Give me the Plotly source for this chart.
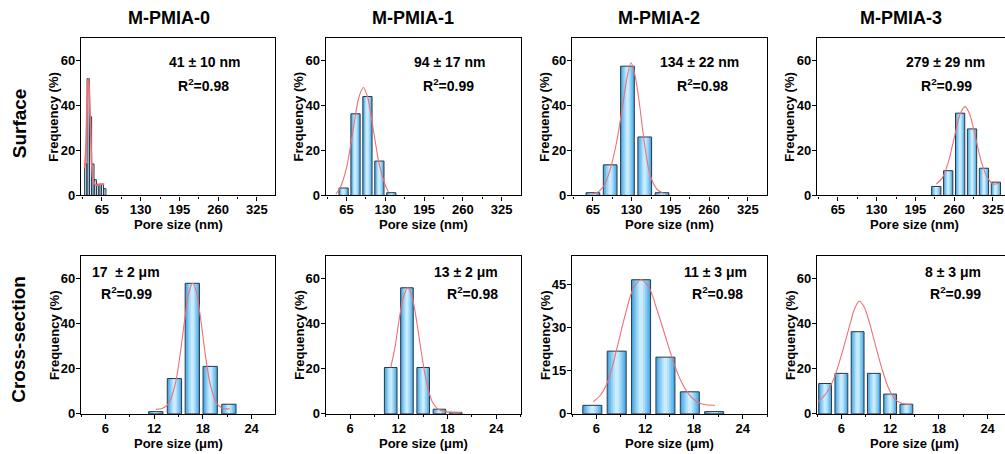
import plotly.graph_objects as go

W, H = 1005, 454          # reference picture size (positions below are in these pixels)
FIG_H = 463               # figure height actually requested
FONT = "Arial, Liberation Sans, sans-serif"

# ---------------- data ----------------
col_titles = ["M-PMIA-0", "M-PMIA-1", "M-PMIA-2", "M-PMIA-3"]
row_labels = ["Surface", "Cross-section"]

# Surface histograms (nm)
s0_x = [38, 42, 46, 50, 54, 58, 62, 66, 70]
s0_y = [14, 52, 35, 14, 7, 5, 5, 5, 3]
s1_x = [60, 80, 100, 120, 140]
s1_y = [3.3, 36.3, 44, 15.3, 1.2]
s2_x = [65, 94, 123, 152, 181]
s2_y = [1.2, 13.6, 57.5, 26, 1.2]
s3_x = [230, 250, 270, 290, 310, 330]
s3_y = [4, 11, 36.6, 29.6, 12.1, 5.9]

# Cross-section histograms (um)
c0_x = [12.2, 14.5, 16.7, 18.9, 21.2]
c0_y = [1.0, 15.7, 58, 21.1, 4.3]
c1_x = [11, 13, 15, 17, 19]
c1_y = [20.6, 56, 20.6, 2.1, 0.7]
c2_x = [5.5, 8.5, 11.5, 14.5, 17.5, 20.5]
c2_y = [3.0, 21.9, 46.8, 19.8, 7.7, 0.8]
c3_x = [4, 6, 8, 10, 12, 14]
c3_y = [13.5, 18, 36.5, 18, 8.8, 4.3]

# Fitted curves
fs0_x = [36, 38, 40, 41.5, 42.5, 44, 46, 48, 50, 53, 57, 61, 65, 69]
fs0_y = [12, 20, 38, 50, 52, 46, 30, 14, 7, 5, 4.5, 4.8, 5, 5]
fs1_x = [47, 55, 65, 75, 85, 93, 100, 110, 120, 130, 135]
fs1_y = [0.5, 3.9, 12.4, 27.4, 43, 48, 44, 29, 13.6, 4.5, 1.5]
fs2_x = [62, 75, 85, 95, 105, 115, 122, 129, 136, 143, 150, 158, 166, 174, 182]
fs2_y = [0.5, 1.8, 5, 12.5, 24, 40, 52, 59, 53, 41, 26, 12.5, 5.5, 2.3, 1.2]
fs3_x = [230, 240, 250, 260, 270, 278, 286, 296, 306, 316, 326, 335]
fs3_y = [5.0, 7.8, 14.6, 25.5, 36.2, 39.5, 36.2, 25.5, 14.6, 7.8, 5.0, 5.5]
fc0_x = [12.2, 13.0, 13.8, 14.6, 15.2, 15.8, 16.3, 16.75, 17.2, 17.7, 18.3, 18.9, 19.7, 20.5, 21.3]
fc0_y = [2.0, 2.4, 4.7, 13.2, 26.3, 42.9, 54.2, 58, 54.2, 42.9, 26.3, 13.2, 4.7, 2.4, 2.3]
fc1_x = [11.0, 11.5, 12.0, 12.5, 13.1, 13.6, 14.1, 14.6, 15.1, 15.6, 16.1, 16.8, 18.0, 19.7]
fc1_y = [20.6, 29, 41, 51, 56, 52.5, 43.3, 31.4, 20, 11.2, 5.5, 2.2, 0.9, 0.6]
fc2_x = [5.6, 6.5, 7.5, 8.5, 9.5, 10.5, 11.5, 12.5, 13.5, 14.5, 15.5, 16.5, 17.5, 18.5, 19.5, 20.6]
fc2_y = [4.2, 6.5, 12, 22.5, 34, 43.5, 46.8, 44, 36, 27, 18, 11, 6.5, 4, 3.2, 3.0]
fc3_x = [3.1, 4, 5, 6, 7, 7.6, 8.2, 8.8, 9.5, 10.3, 11, 11.8, 12.6, 13.5, 14.6]
fc3_y = [5.3, 8.5, 15, 26, 39, 46.5, 50, 47.5, 40, 29, 20, 11.5, 6.5, 4.6, 4.3]

# Annotations
surf_size_text = ["41 \u00b1 10 nm", "94 \u00b1 17 nm", "134 \u00b1 22 nm", "279 \u00b1 29 nm"]
surf_r2 = ["0.98", "0.99", "0.98", "0.99"]
cross_size_text = ["17  \u00b1 2 \u03bcm", "13 \u00b1 2 \u03bcm", "11 \u00b1 3 \u03bcm", "8 \u00b1 3 \u03bcm"]
cross_r2 = ["0.99", "0.98", "0.98", "0.99"]

nm_ticks = [65, 130, 195, 260, 325]
um_ticks = [6, 12, 18, 24]

# ---------------- layout geometry (pixels) ----------------
col_px = [(81, 275), (325.7, 520.7), (572, 767), (817, 1005)]
col_mid = [178, 423, 669.5, 914.5]
row_px = [(38, 195), (255.7, 413)]
xtitle_y = [224, 443]

panels = [
    (0, 0, s0_x, s0_y, 3.6, fs0_x, fs0_y, "nm", 70, 20, 1.7),
    (0, 1, s1_x, s1_y, 15.5, fs1_x, fs1_y, "nm", 70, 20, 1.1),
    (0, 2, s2_x, s2_y, 23, fs2_x, fs2_y, "nm", 70, 20, 1.1),
    (0, 3, s3_x, s3_y, 15.5, fs3_x, fs3_y, "nm", 70, 20, 1.1),
    (1, 0, c0_x, c0_y, 1.76, fc0_x, fc0_y, "um", 70, 20, 1.1),
    (1, 1, c1_x, c1_y, 1.55, fc1_x, fc1_y, "um", 70, 20, 1.1),
    (1, 2, c2_x, c2_y, 2.34, fc2_x, fc2_y, "um", 55, 15, 1.1),
    (1, 3, c3_x, c3_y, 1.58, fc3_x, fc3_y, "um", 70, 20, 1.1),
]

grad_w = [1.0, 0.8, 0.6, 0.4, 0.2]
grad_c = ["#4aa9e5", "#6bbcee", "#8dcef4", "#afdff9", "#cbecfc"]
outline_col = "#2b3a48"
fit_col = "#ef6f72"

fig = go.Figure()
layout = dict(
    width=W, height=FIG_H, margin=dict(l=0, r=0, t=0, b=0),
    paper_bgcolor="white", plot_bgcolor="white",
    barmode="overlay", showlegend=False, autosize=False,
    font=dict(family=FONT, color="black"),
)

annotations = []
lab_font = dict(family=FONT, size=13, color="black")

for k, (r, c, bx, by, bw, fx, fy, unit, ymax, ydt, fw) in enumerate(panels):
    n = k + 1
    xa = "x" if n == 1 else f"x{n}"
    ya = "y" if n == 1 else f"y{n}"
    for w, cl in zip(grad_w, grad_c):
        fig.add_trace(go.Bar(x=bx, y=by, width=bw * w,
                             marker=dict(color=cl, line=dict(width=0)),
                             xaxis=xa, yaxis=ya, hoverinfo="skip"))
    fig.add_trace(go.Bar(x=bx, y=by, width=bw,
                         marker=dict(color="rgba(0,0,0,0)", line=dict(color=outline_col, width=1)),
                         xaxis=xa, yaxis=ya))
    fig.add_trace(go.Scatter(x=fx, y=fy, mode="lines",
                             line=dict(color=fit_col, width=fw, shape="spline", smoothing=0.8),
                             xaxis=xa, yaxis=ya))

    x0, x1 = col_px[c]
    y0, y1 = row_px[r]
    span = x1 - x0
    if unit == "nm":
        xr = [30, 30 + span * 327 / 195]
        ticks = nm_ticks
        minor = 32.5
        xtitle = "Pore size (nm)"
    else:
        xr = [3, 3 + span * 24 / 195]
        ticks = um_ticks
        minor = 3
        xtitle = "Pore size (\u03bcm)"

    axis_common = dict(
        showline=True, linecolor="black", linewidth=1.2,
        ticks="outside", ticklen=4, tickwidth=1.2, tickcolor="black",
        showgrid=False, zeroline=False, ticklabelstandoff=-2,
        tickfont=dict(family=FONT, size=13, color="black", weight="bold"),
    )
    layout["xaxis" if n == 1 else f"xaxis{n}"] = dict(
        axis_common, domain=[x0 / W, min(x1 / W, 1.0)], anchor=ya,
        range=xr, tickmode="array", tickvals=ticks, mirror=True,
        minor=dict(ticks="outside", ticklen=2, dtick=minor, tick0=ticks[0], tickcolor="black"),
    )
    layout["yaxis" if n == 1 else f"yaxis{n}"] = dict(
        axis_common, domain=[1 - y1 / H, 1 - y0 / H], anchor=xa,
        range=[0, ymax], dtick=ydt, tick0=0, mirror=(c != 3),
    )
    # axis titles
    annotations.append(dict(text=f"<b>{xtitle}</b>", x=col_mid[c] / W, y=1 - xtitle_y[r] / H,
                            xref="paper", yref="paper", showarrow=False,
                            xanchor="center", yanchor="middle", font=lab_font))
    annotations.append(dict(text="<b>Frequency (%)</b>", x=(x0 - 27) / W, y=1 - (y0 + y1) / 2 / H,
                            xref="paper", yref="paper", showarrow=False, textangle=-90,
                            xanchor="center", yanchor="middle", font=lab_font))

# column titles
title_cx = [169, 412.5, 658.5, 900.5]
for t, cx in zip(col_titles, title_cx):
    annotations.append(dict(text=f"<b>{t}</b>", x=cx / W, y=1 - 18 / H, xref="paper", yref="paper",
                            showarrow=False, xanchor="center", yanchor="middle",
                            font=dict(family=FONT, size=18, color="black")))
# row labels
for t, cy in zip(row_labels, [123, 339]):
    annotations.append(dict(text=f"<b>{t}</b>", x=19 / W, y=1 - cy / H, xref="paper", yref="paper",
                            showarrow=False, textangle=-90, xanchor="center", yanchor="middle",
                            font=dict(family=FONT, size=19, color="black")))

# in-panel text
surf_cx = [205, 450, 699, 945]
surf_r2x = [203, 448, 702, 946]
for t, r2, cx, rx in zip(surf_size_text, surf_r2, surf_cx, surf_r2x):
    annotations.append(dict(text=f"<b>{t}</b>", x=cx / W, y=1 - 62 / H, xref="paper", yref="paper",
                            showarrow=False, xanchor="center", yanchor="middle",
                            font=dict(family=FONT, size=14, color="black")))
    annotations.append(dict(text=f"<b>R<sup>2</sup>={r2}</b>", x=rx / W, y=1 - 85 / H,
                            xref="paper", yref="paper", showarrow=False,
                            xanchor="center", yanchor="middle",
                            font=dict(family=FONT, size=14, color="black")))

cross_cx = [90, 466, 715, 953]
cross_r2x = [99, 472, 717, 955]
for i, (t, r2, cx, rx) in enumerate(zip(cross_size_text, cross_r2, cross_cx, cross_r2x)):
    anc = "left" if i == 0 else "center"
    annotations.append(dict(text=f"<b>{t}</b>", x=cx / W, y=1 - 271 / H, xref="paper", yref="paper",
                            showarrow=False, xanchor=anc, yanchor="middle",
                            font=dict(family=FONT, size=14, color="black")))
    annotations.append(dict(text=f"<b>R<sup>2</sup>={r2}</b>", x=rx / W, y=1 - 292 / H,
                            xref="paper", yref="paper", showarrow=False,
                            xanchor=anc, yanchor="middle",
                            font=dict(family=FONT, size=14, color="black")))

layout["annotations"] = annotations
fig.update_layout(**layout)

page_css = "document.body.style.margin='0';document.body.style.overflow='hidden';"
fig.write_html("out.html", config={"displayModeBar": False},
               post_script=page_css)
